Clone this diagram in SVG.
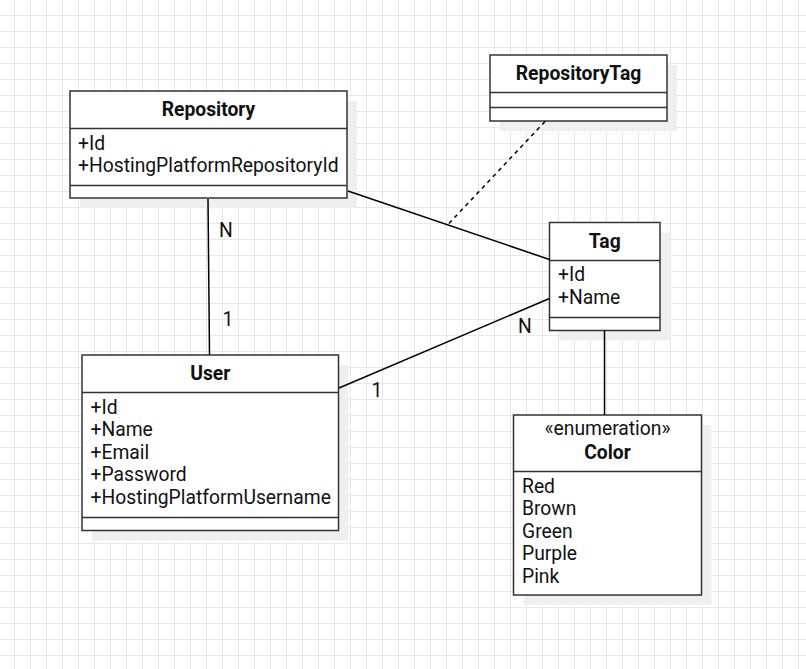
<svg xmlns="http://www.w3.org/2000/svg" width="806" height="669" viewBox="0 0 806 669">
<style>
.box{fill:#ffffff;stroke:#333333;stroke-width:1.5}
.shadow{fill:#efefef}
.div{stroke:#333333;stroke-width:1.5;fill:none}
.edge{stroke:#000000;stroke-width:1.5;fill:none}
.dash{stroke:#000000;stroke-width:1.5;fill:none;stroke-dasharray:4 4}
text{font-family:Roboto,"Liberation Sans",sans-serif;font-size:19.3px;fill:#111111}
.title{font-weight:bold;text-anchor:middle}
.mid{text-anchor:middle}
</style>
<defs>
<pattern id="grid" patternUnits="userSpaceOnUse" x="0" y="0" width="16" height="16">
<rect x="14" y="0" width="1" height="16" fill="#e8e8e8"/>
<rect x="0" y="15" width="16" height="1" fill="#e8e8e8"/>
</pattern>
</defs>
<rect width="806" height="669" fill="#ffffff"/>
<rect width="806" height="669" fill="url(#grid)"/>

<g id="repository">
<rect class="shadow" x="80" y="101" width="277" height="107"/>
<rect class="box" x="70" y="91" width="277" height="107"/>
<line class="div" x1="70" y1="128.5" x2="347" y2="128.5"/>
<line class="div" x1="70" y1="185.5" x2="347" y2="185.5"/>
<text class="title" x="208.5" y="116">Repository</text>
<text x="78" y="149.5">+Id</text>
<text x="78" y="171.5">+HostingPlatformRepositoryId</text>
</g>

<g id="repositorytag">
<rect class="shadow" x="500" y="65" width="177" height="66"/>
<rect class="box" x="490" y="55" width="177" height="66"/>
<line class="div" x1="490" y1="92.5" x2="667" y2="92.5"/>
<line class="div" x1="490" y1="107.5" x2="667" y2="107.5"/>
<text class="title" x="578.5" y="79.5">RepositoryTag</text>
</g>

<g id="tag">
<rect class="shadow" x="559.5" y="232.5" width="110.5" height="108"/>
<rect class="box" x="549.5" y="222.5" width="110.5" height="108"/>
<line class="div" x1="549.5" y1="260.5" x2="660" y2="260.5"/>
<line class="div" x1="549.5" y1="317.5" x2="660" y2="317.5"/>
<text class="title" x="604.75" y="248">Tag</text>
<text x="558" y="281">+Id</text>
<text x="558" y="303.5">+Name</text>
</g>

<g id="user">
<rect class="shadow" x="92" y="365" width="256.5" height="175.5"/>
<rect class="box" x="82" y="355" width="256.5" height="175.5"/>
<line class="div" x1="82" y1="392.5" x2="338.5" y2="392.5"/>
<line class="div" x1="82" y1="517.5" x2="338.5" y2="517.5"/>
<text class="title" x="210.25" y="379.5">User</text>
<text x="90.5" y="413.5">+Id</text>
<text x="90.5" y="436">+Name</text>
<text x="90.5" y="458.5">+Email</text>
<text x="90.5" y="481">+Password</text>
<text x="90.5" y="503.5">+HostingPlatformUsername</text>
</g>

<g id="color">
<rect class="shadow" x="523.5" y="425" width="188" height="180"/>
<rect class="box" x="513.5" y="415" width="188" height="180"/>
<line class="div" x1="513.5" y1="471.5" x2="701.5" y2="471.5"/>
<text class="mid" x="607.5" y="435">«enumeration»</text>
<text class="title" x="607.5" y="459">Color</text>
<text x="522" y="492.5">Red</text>
<text x="522" y="515">Brown</text>
<text x="522" y="537.5">Green</text>
<text x="522" y="560">Purple</text>
<text x="522" y="582.5">Pink</text>
</g>

<g id="connectors">
<line class="edge" x1="208" y1="199" x2="209.5" y2="354.5"/>
<line class="edge" x1="348" y1="191" x2="549.5" y2="259.5"/>
<line class="dash" x1="545" y1="121.5" x2="447.5" y2="225"/>
<line class="edge" x1="549.5" y1="298.5" x2="339" y2="388"/>
<line class="edge" x1="604.5" y1="330.5" x2="604.5" y2="415"/>
<text class="mid" x="226" y="237">N</text>
<text class="mid" x="228" y="325.5">1</text>
<text class="mid" x="525" y="333">N</text>
<text class="mid" x="377" y="397">1</text>
</g>
</svg>
